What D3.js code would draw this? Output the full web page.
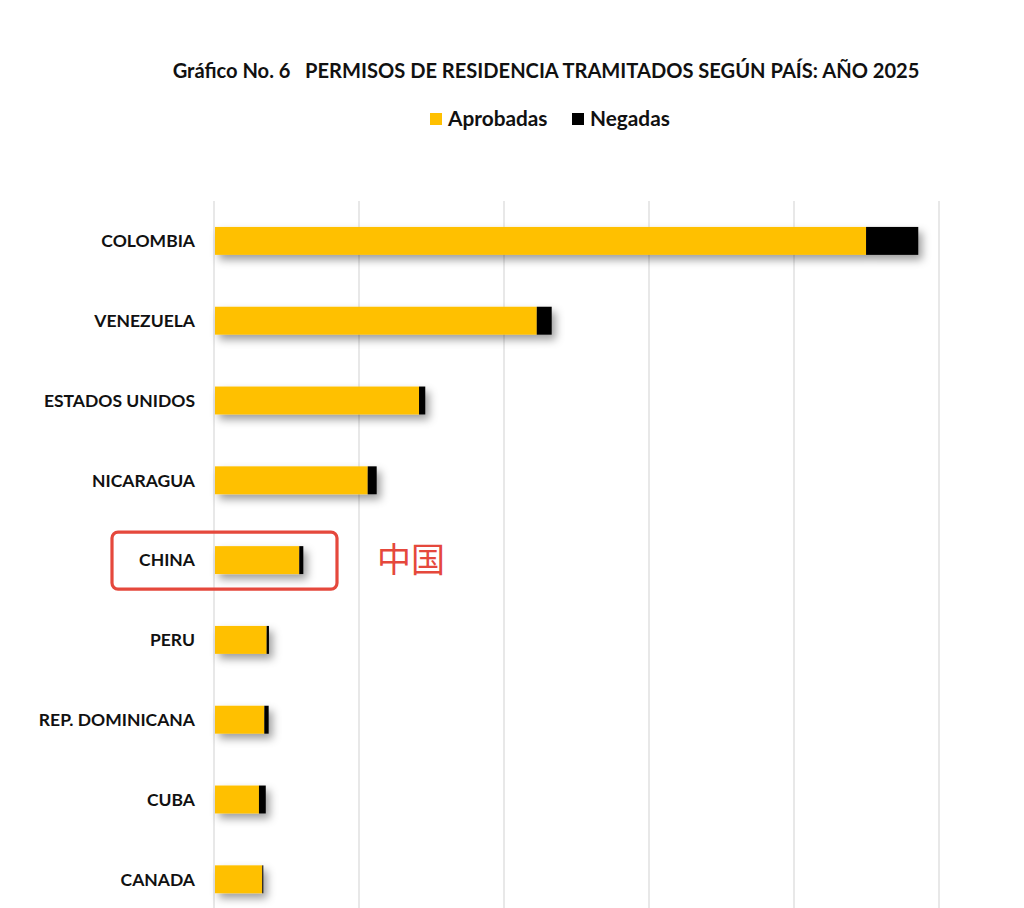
<!DOCTYPE html>
<html>
<head>
<meta charset="utf-8">
<script src="https://cdn.jsdelivr.net/npm/d3@7"></script>
<style>
  html, body { margin: 0; padding: 0; background: #fff; }
  svg { display: block; }
</style>
</head>
<body>
<svg id="chart" width="1024" height="908"></svg>
<script>
// Residence permits processed by country, 2025
const countries = ["COLOMBIA", "VENEZUELA", "ESTADOS UNIDOS", "NICARAGUA", "CHINA",
                   "PERU", "REP. DOMINICANA", "CUBA", "CANADA"];
const aprobadas = [4497, 2226, 1414, 1060, 588, 363, 347, 310, 333];
const negadas   = [360, 103, 43, 62, 28, 16, 30, 47, 7];
const gridTicks = [0, 1000, 2000, 3000, 4000, 5000];
const seriesNames = ["Aprobadas", "Negadas"];
const seriesColors = ["#FFC000", "#000000"];
const highlighted = "CHINA";
const highlightNote = "中国";

const svg = d3.select("#chart");
const font = "Lato, 'Open Sans', sans-serif";

const x = d3.scaleLinear().domain([0, 5000]).range([214, 939]);
const y = d3.scaleBand().domain(countries)
  .range([201, 201 + 9 * 79.8])
  .paddingInner(0.65).paddingOuter(0.325);

// soft drop shadow under each bar
const defs = svg.append("defs");
const f = defs.append("filter").attr("id", "shadow")
  .attr("x", "-20%").attr("y", "-60%").attr("width", "150%").attr("height", "260%");
f.append("feDropShadow").attr("dx", 4).attr("dy", 5).attr("stdDeviation", 4)
  .attr("flood-color", "#000").attr("flood-opacity", 0.38);

// title
svg.append("text")
  .attr("x", 546).attr("y", 78)
  .attr("text-anchor", "middle")
  .attr("font-family", font).attr("font-weight", "bold").attr("font-size", 20.1)
  .attr("fill", "#111")
  .attr("xml:space", "preserve")
  .text("Gráfico No. 6   PERMISOS DE RESIDENCIA TRAMITADOS SEGÚN PAÍS: AÑO 2025");

// legend
const legendX = [430, 572];
const legend = svg.append("g");
seriesNames.forEach((name, i) => {
  legend.append("rect")
    .attr("x", legendX[i]).attr("y", 113).attr("width", 12).attr("height", 12)
    .attr("fill", seriesColors[i]);
  legend.append("text")
    .attr("x", legendX[i] + 18).attr("y", 126)
    .attr("font-family", font).attr("font-weight", "bold").attr("font-size", 20.8)
    .attr("fill", "#111")
    .text(name);
});

// vertical gridlines
svg.append("g").selectAll("line").data(gridTicks).join("line")
  .attr("x1", d => x(d)).attr("x2", d => x(d))
  .attr("y1", 201).attr("y2", 920)
  .attr("stroke", "#d9d9d9").attr("stroke-width", 1.2);

// category labels
svg.append("g").selectAll("text").data(countries).join("text")
  .attr("x", 195)
  .attr("y", d => y(d) + y.bandwidth() / 2)
  .attr("dy", "0.36em")
  .attr("text-anchor", "end")
  .attr("font-family", font).attr("font-weight", "bold").attr("font-size", 17.5)
  .attr("fill", "#111")
  .text(d => d);

// stacked bars
const rows = countries.map((c, i) => ({ c, a: aprobadas[i], n: negadas[i] }));
const bars = svg.append("g").selectAll("g").data(rows).join("g")
  .attr("filter", "url(#shadow)");
bars.append("rect")
  .attr("x", x(0) + 1)
  .attr("y", d => y(d.c))
  .attr("width", d => x(d.a) - x(0) - 1)
  .attr("height", y.bandwidth())
  .attr("fill", seriesColors[0]);
bars.append("rect")
  .attr("x", d => x(d.a))
  .attr("y", d => y(d.c))
  .attr("width", d => x(d.a + d.n) - x(d.a))
  .attr("height", y.bandwidth())
  .attr("fill", seriesColors[1]);

// highlight box and note around China
const hy = y(highlighted) + y.bandwidth() / 2;
svg.append("rect")
  .attr("x", 112).attr("y", hy - 28)
  .attr("width", 225).attr("height", 57)
  .attr("rx", 6).attr("ry", 6)
  .attr("fill", "none").attr("stroke", "#E5483C").attr("stroke-width", 3.2);
svg.append("text")
  .attr("x", 377).attr("y", hy)
  .attr("dy", "0.36em")
  .attr("font-family", "'Noto Sans CJK SC', sans-serif").attr("font-size", 34)
  .attr("fill", "#E5483C")
  .text(highlightNote);
</script>
</body>
</html>
